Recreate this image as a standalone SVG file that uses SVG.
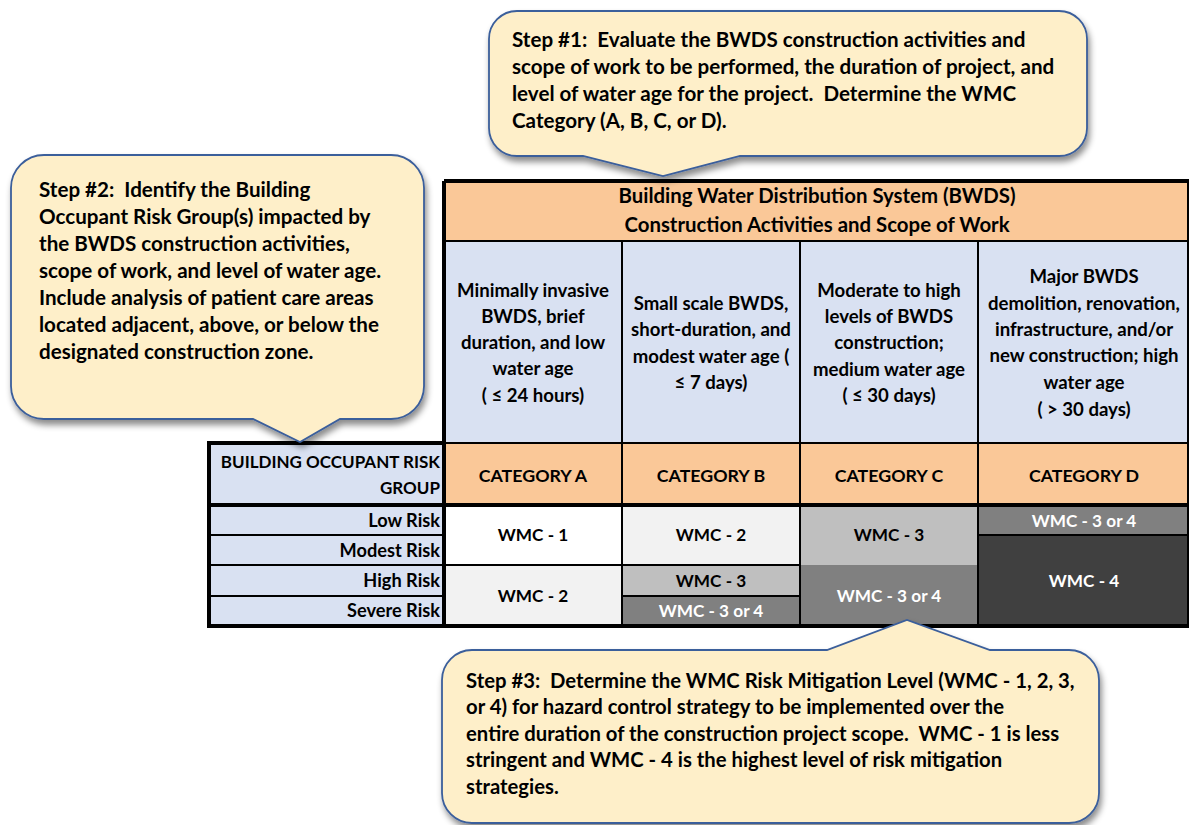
<svg xmlns="http://www.w3.org/2000/svg" width="1189" height="825" viewBox="0 0 1189 825">
<defs>
<filter id="sh" x="-10%" y="-10%" width="125%" height="130%">
<feDropShadow dx="2" dy="5" stdDeviation="3" flood-color="#000" flood-opacity="0.45"/>
</filter>
<style>
text{font-family:Lato,"Liberation Sans",sans-serif;font-weight:bold;fill:#000;}
.c{text-anchor:middle;font-size:18.6px;}
.k{text-anchor:middle;font-size:17.8px;}
.m{text-anchor:middle;font-size:17.2px;}
.r{text-anchor:end;font-size:18.2px;}
.rk{text-anchor:end;font-size:17px;}
.h{text-anchor:middle;font-size:20.4px;}
.w{fill:#fff;}
.s{font-size:20.6px;white-space:pre;}
.s3{font-size:20.3px;white-space:pre;}
.callout{fill:#FEEFC9;stroke:#3B5E9B;stroke-width:1.8;filter:url(#sh);}
.thin{stroke:#000;stroke-width:2;fill:none;}
.thick{stroke:#000;stroke-width:4;fill:none;}
.or{fill:#FAC898;}
.bl{fill:#D9E1F2;}
</style>
</defs>
<rect width="1189" height="825" fill="#fff"/>

<g id="table">
<rect class="or" x="444" y="181" width="745" height="60"/>
<rect class="bl" x="444" y="241" width="745" height="202"/>
<rect class="or" x="444" y="443" width="745" height="62"/>
<rect class="bl" x="209" y="443" width="235" height="183"/>
<rect x="444" y="505" width="178" height="60" fill="#FFFFFF"/>
<rect x="444" y="565" width="178" height="61" fill="#F2F2F2"/>
<rect x="622" y="505" width="178" height="60" fill="#F2F2F2"/>
<rect x="622" y="565" width="178" height="31" fill="#BFBFBF"/>
<rect x="622" y="596" width="178" height="30" fill="#808080"/>
<rect x="800" y="505" width="178" height="60" fill="#BFBFBF"/>
<rect x="800" y="565" width="178" height="61" fill="#808080"/>
<rect x="978" y="505" width="211" height="30" fill="#808080"/>
<rect x="978" y="535" width="211" height="91" fill="#404040"/>

<path class="thin" d="M444,241 H1189 M444,443 H1189 M622,241 V626 M800,241 V626 M978,241 V626 M209,535 H444 M209,565 H800 M209,596 H444 M622,596 H800 M978,535 H1189"/>
<path class="thick" d="M444,181 H1189 M444,181 V626 M209,443 H444 M209,441 V628 M207,626 H1189 M209,505 H1189 M1189,181 V626"/>

<text class="h" x="817" y="203">Building Water Distribution System (BWDS)</text>
<text class="h" x="817" y="232">Construction Activities and Scope of Work</text>

<text class="c" x="533" y="297">Minimally invasive</text>
<text class="c" x="533" y="323">BWDS, brief</text>
<text class="c" x="533" y="349">duration, and low</text>
<text class="c" x="533" y="375">water age</text>
<text class="c" x="533" y="402">( ≤ 24 hours)</text>

<text class="c" x="711" y="310">Small scale BWDS,</text>
<text class="c" x="711" y="336">short-duration, and</text>
<text class="c" x="711" y="363">modest water age (</text>
<text class="c" x="711" y="389">≤ 7 days)</text>

<text class="c" x="889" y="297">Moderate to high</text>
<text class="c" x="889" y="323">levels of BWDS</text>
<text class="c" x="889" y="349">construction;</text>
<text class="c" x="889" y="376">medium water age</text>
<text class="c" x="889" y="402">( ≤ 30 days)</text>

<text class="c" x="1084" y="283">Major BWDS</text>
<text class="c" x="1084" y="310">demolition, renovation,</text>
<text class="c" x="1084" y="336">infrastructure, and/or</text>
<text class="c" x="1084" y="362">new construction; high</text>
<text class="c" x="1084" y="389">water age</text>
<text class="c" x="1084" y="416">( &gt; 30 days)</text>

<text class="rk" x="440" y="468">BUILDING OCCUPANT RISK</text>
<text class="rk" x="440" y="494">GROUP</text>
<text class="k" x="533" y="482">CATEGORY A</text>
<text class="k" x="711" y="482">CATEGORY B</text>
<text class="k" x="889" y="482">CATEGORY C</text>
<text class="k" x="1084" y="482">CATEGORY D</text>

<text class="r" x="440" y="527">Low Risk</text>
<text class="r" x="440" y="557">Modest Risk</text>
<text class="r" x="440" y="587">High Risk</text>
<text class="r" x="440" y="617">Severe Risk</text>

<text class="m" x="533" y="541">WMC - 1</text>
<text class="m" x="533" y="602">WMC - 2</text>
<text class="m" x="711" y="541">WMC - 2</text>
<text class="m" x="711" y="587">WMC - 3</text>
<text class="m w" x="711" y="617">WMC - 3 or 4</text>
<text class="m" x="889" y="541">WMC - 3</text>
<text class="m w" x="889" y="602">WMC - 3 or 4</text>
<text class="m w" x="1084" y="527">WMC - 3 or 4</text>
<text class="m w" x="1084" y="587">WMC - 4</text>
</g>

<g id="step1">
<path class="callout" d="M517,11 H1059 A28,28 0 0 1 1087,39 V128 A28,28 0 0 1 1059,156 H740 L663,176 L583,156 H517 A28,28 0 0 1 489,128 V39 A28,28 0 0 1 517,11 Z"/>
<text class="s" x="512" y="47">Step #1:  Evaluate the BWDS construction activities and</text>
<text class="s" x="512" y="74">scope of work to be performed, the duration of project, and</text>
<text class="s" x="512" y="101">level of water age for the project.  Determine the WMC</text>
<text class="s" x="512" y="128">Category (A, B, C, or D).</text>
</g>

<g id="step2">
<path class="callout" d="M44,155 H391 A33,33 0 0 1 424,188 V386 A33,33 0 0 1 391,419 H340 L300,442 L253,419 H44 A33,33 0 0 1 11,386 V188 A33,33 0 0 1 44,155 Z"/>
<text class="s" x="39" y="197">Step #2:  Identify the Building</text>
<text class="s" x="39" y="224">Occupant Risk Group(s) impacted by</text>
<text class="s" x="39" y="251">the BWDS construction activities,</text>
<text class="s" x="39" y="278">scope of work, and level of water age.</text>
<text class="s" x="39" y="305">Include analysis of patient care areas</text>
<text class="s" x="39" y="332">located adjacent, above, or below the</text>
<text class="s" x="39" y="359">designated construction zone.</text>
</g>

<g id="step3">
<path class="callout" d="M472,650 H827 L907,620 L990,650 H1069 A30,30 0 0 1 1099,680 V793 A30,30 0 0 1 1069,823 H472 A30,30 0 0 1 442,793 V680 A30,30 0 0 1 472,650 Z"/>
<text class="s3" x="466" y="688">Step #3:  Determine the WMC Risk Mitigation Level (WMC - 1, 2, 3,</text>
<text class="s3" x="466" y="714">or 4) for hazard control strategy to be implemented over the</text>
<text class="s3" x="466" y="741">entire duration of the construction project scope.  WMC - 1 is less</text>
<text class="s3" x="466" y="767">stringent and WMC - 4 is the highest level of risk mitigation</text>
<text class="s3" x="466" y="794">strategies.</text>
</g>
</svg>
